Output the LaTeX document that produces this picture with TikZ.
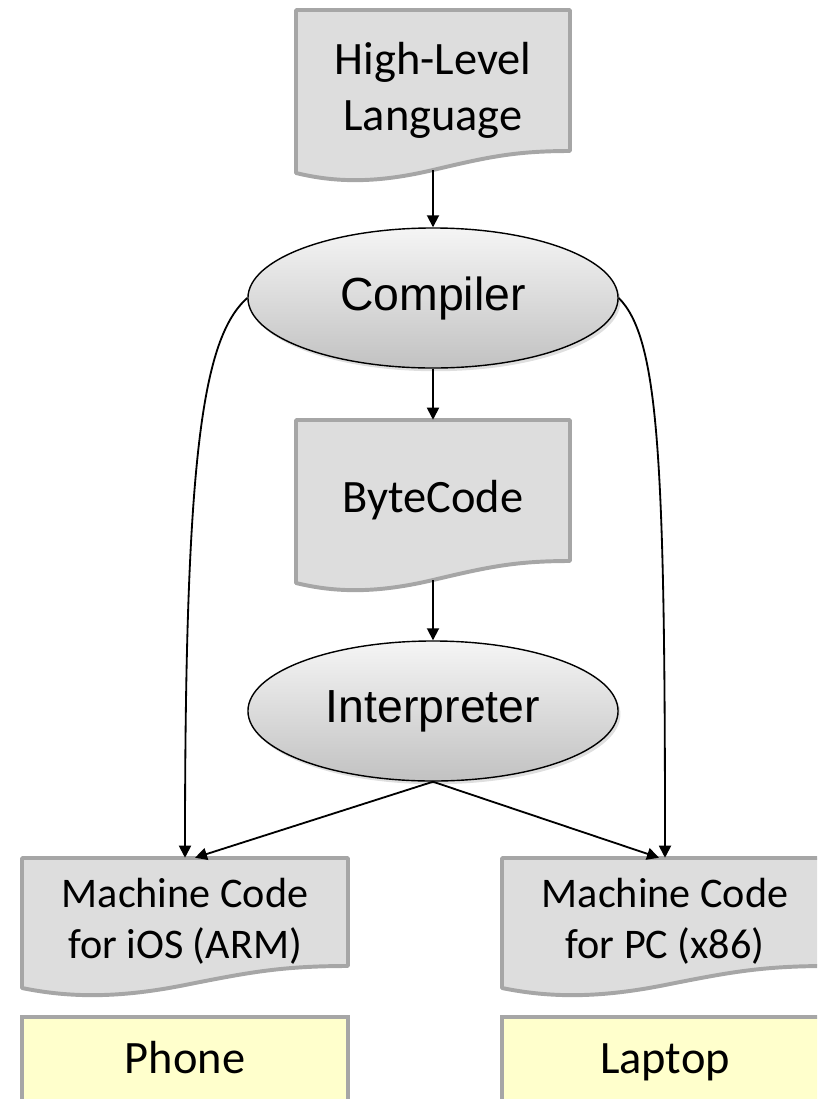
\documentclass[tikz,border=0pt]{standalone}
\usepackage{fontspec}
\setmainfont{Carlito}
\newfontfamily\arialfont{Liberation Sans}
\usepackage{tikz}
\usetikzlibrary{arrows.meta,shapes.geometric,shadows}
\definecolor{sheetfill}{HTML}{DDDDDD}
\definecolor{sheetline}{HTML}{A6A6A6}
\definecolor{padfill}{HTML}{FFFFCC}
\tikzset{
    docline/.style={draw=sheetline, fill=sheetfill, line width=2.8pt, line join=round},
    docbox/.style={inner sep=0pt, align=center},
    bigtext/.style={font=\fontsize{33}{40}\selectfont},
    smalltext/.style={font=\fontsize{30}{36}\selectfont},
    procell/.style={ellipse, draw=black, line width=1pt, top color=gray!8, bottom color=gray!48,
        minimum width=9.25cm, minimum height=3.5cm, inner sep=0pt,
        font=\arialfont\fontsize{33}{40}\selectfont,
        drop shadow={opacity=0.25, shadow xshift=0.6mm, shadow yshift=-0.8mm}},
    devbox/.style={draw=sheetline, fill=padfill, line width=2.8pt, minimum width=8.15cm,
        minimum height=2.25cm, text height=22pt, text depth=6pt, bigtext},
    flow/.style={-{Triangle[length=3mm,width=3mm]}, line width=1.3pt}
}
% x, y, width, height (left edge), name, text style, text
\newcommand{\docsheet}[7]{
    \draw[docline] (#1,#2) -- (#1+#3,#2) -- (#1+#3,#2+#4-22)
        .. controls (#1+0.8*#3,#2+#4-22) and (#1+0.7*#3,#2+#4-16) .. (#1+0.5*#3,#2+#4-3)
        .. controls (#1+0.3*#3,#2+#4+10) and (#1+0.15*#3,#2+#4+10) .. (#1,#2+#4) -- cycle;
    \node[docbox, #6, minimum width={#3*0.025cm}, minimum height={(#4-3)*0.025cm}] (#5)
        at (#1+0.5*#3,#2+0.5*#4-1.5) {#7};
}

\begin{document}
\begin{tikzpicture}[x=0.025cm, y=-0.025cm]
\clip (0,0) rectangle (817,1099);

\docsheet{296}{10}{274}{163}{hll}{bigtext}{High-Level\\Language}
\node[procell] (comp) at (433,298) {Compiler};
\docsheet{296}{420}{274}{163}{byte}{bigtext}{ByteCode}
\node[procell] (interp) at (433,711) {Interpreter};
\docsheet{22}{858}{326}{130}{mcl}{smalltext}{Machine Code\\for iOS (ARM)}
\docsheet{502}{858}{326}{130}{mcr}{smalltext}{Machine Code\\for PC (x86)}

\node[devbox] (phone) at (185,1062) {Phone};
\node[devbox] (laptop) at (665,1062) {Laptop};

\draw[flow] (hll.south) -- (comp.north);
\draw[flow] (comp.south) -- (byte.north);
\draw[flow] (byte.south) -- (interp.north);
\draw[flow] (comp.west) .. controls +(-45,40) and +(0,-400) .. (mcl.north);
\draw[flow] (comp.east) .. controls +(40,40) and +(0,-400) .. (mcr.north);
\draw[flow] (interp.south) -- ([xshift=2.5mm]mcl.north);
\draw[flow] (interp.south) -- ([xshift=-1.5mm]mcr.north);
\end{tikzpicture}
\end{document}
